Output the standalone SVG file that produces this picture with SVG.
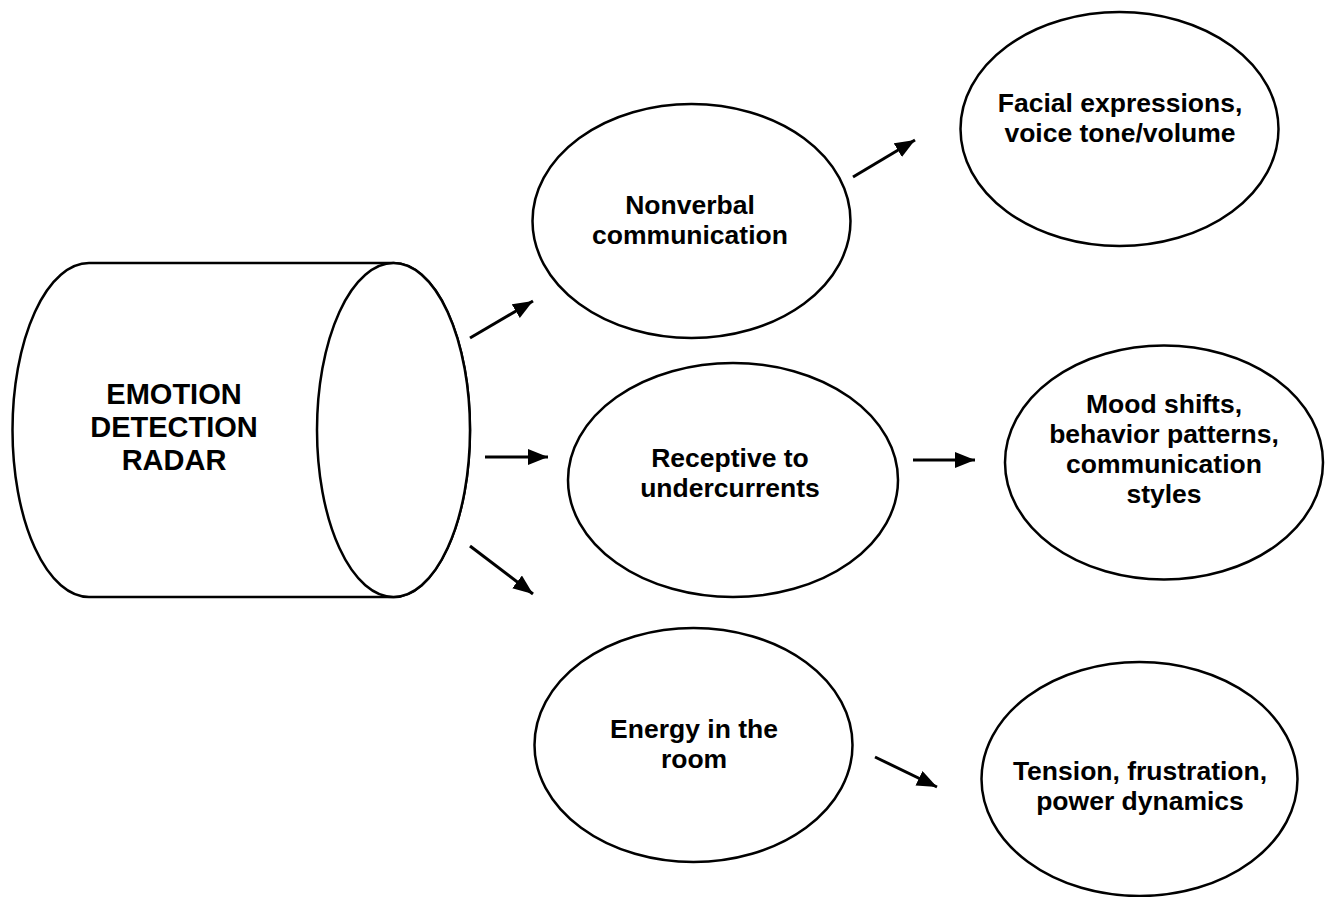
<svg xmlns="http://www.w3.org/2000/svg" width="1328" height="897" viewBox="0 0 1328 897">
<style>
.shape{fill:#fff;stroke:#000;stroke-width:2.5}
.lbl{font-family:"Liberation Sans",Arial,sans-serif;font-weight:bold;font-size:26.5px;fill:#000;text-anchor:middle}
.big{font-size:29px}
.conn{stroke:#000;stroke-width:3;fill:none}
</style>
<defs>
<marker id="ah" markerUnits="userSpaceOnUse" markerWidth="22" markerHeight="18" refX="20" refY="8" orient="auto">
<path d="M0,0 L20,8 L0,16 Z" fill="#000"/>
</marker>
</defs>
<rect width="1328" height="897" fill="#fff"/>
<g id="radar">
<path class="shape" d="M89,263 H393.5 A76.5,167 0 0 1 393.5,597 H89 A76.5,167 0 0 1 89,263 Z"/>
<ellipse class="shape" cx="393.5" cy="430" rx="76.5" ry="167"/>
<text class="lbl big" x="174" y="404">EMOTION</text>
<text class="lbl big" x="174" y="437">DETECTION</text>
<text class="lbl big" x="174" y="470">RADAR</text>
</g>
<g id="nonverbal">
<ellipse class="shape" cx="691.5" cy="221" rx="159" ry="117"/>
<text class="lbl" x="690" y="214">Nonverbal</text>
<text class="lbl" x="690" y="244">communication</text>
</g>
<g id="receptive">
<ellipse class="shape" cx="733" cy="480" rx="165" ry="117"/>
<text class="lbl" x="730" y="467">Receptive to</text>
<text class="lbl" x="730" y="497">undercurrents</text>
</g>
<g id="energy">
<ellipse class="shape" cx="693.5" cy="745" rx="159" ry="117"/>
<text class="lbl" x="694" y="738">Energy in the</text>
<text class="lbl" x="694" y="768">room</text>
</g>
<g id="facial">
<ellipse class="shape" cx="1119.5" cy="129" rx="159" ry="117"/>
<text class="lbl" x="1120" y="112">Facial expressions,</text>
<text class="lbl" x="1120" y="142">voice tone/volume</text>
</g>
<g id="mood">
<ellipse class="shape" cx="1164" cy="462.5" rx="159" ry="117"/>
<text class="lbl" x="1164" y="413">Mood shifts,</text>
<text class="lbl" x="1164" y="443">behavior patterns,</text>
<text class="lbl" x="1164" y="473">communication</text>
<text class="lbl" x="1164" y="503">styles</text>
</g>
<g id="tension">
<ellipse class="shape" cx="1139.5" cy="779" rx="158" ry="117"/>
<text class="lbl" x="1140" y="780">Tension, frustration,</text>
<text class="lbl" x="1140" y="810">power dynamics</text>
</g>
<g id="connectors">
<line class="conn" x1="470" y1="338" x2="533" y2="301" marker-end="url(#ah)"/>
<line class="conn" x1="485" y1="457" x2="548" y2="457" marker-end="url(#ah)"/>
<line class="conn" x1="470" y1="546" x2="533" y2="594" marker-end="url(#ah)"/>
<line class="conn" x1="853" y1="177" x2="915" y2="140" marker-end="url(#ah)"/>
<line class="conn" x1="913" y1="460" x2="975" y2="460" marker-end="url(#ah)"/>
<line class="conn" x1="875" y1="757" x2="937" y2="787" marker-end="url(#ah)"/>
</g>
</svg>
